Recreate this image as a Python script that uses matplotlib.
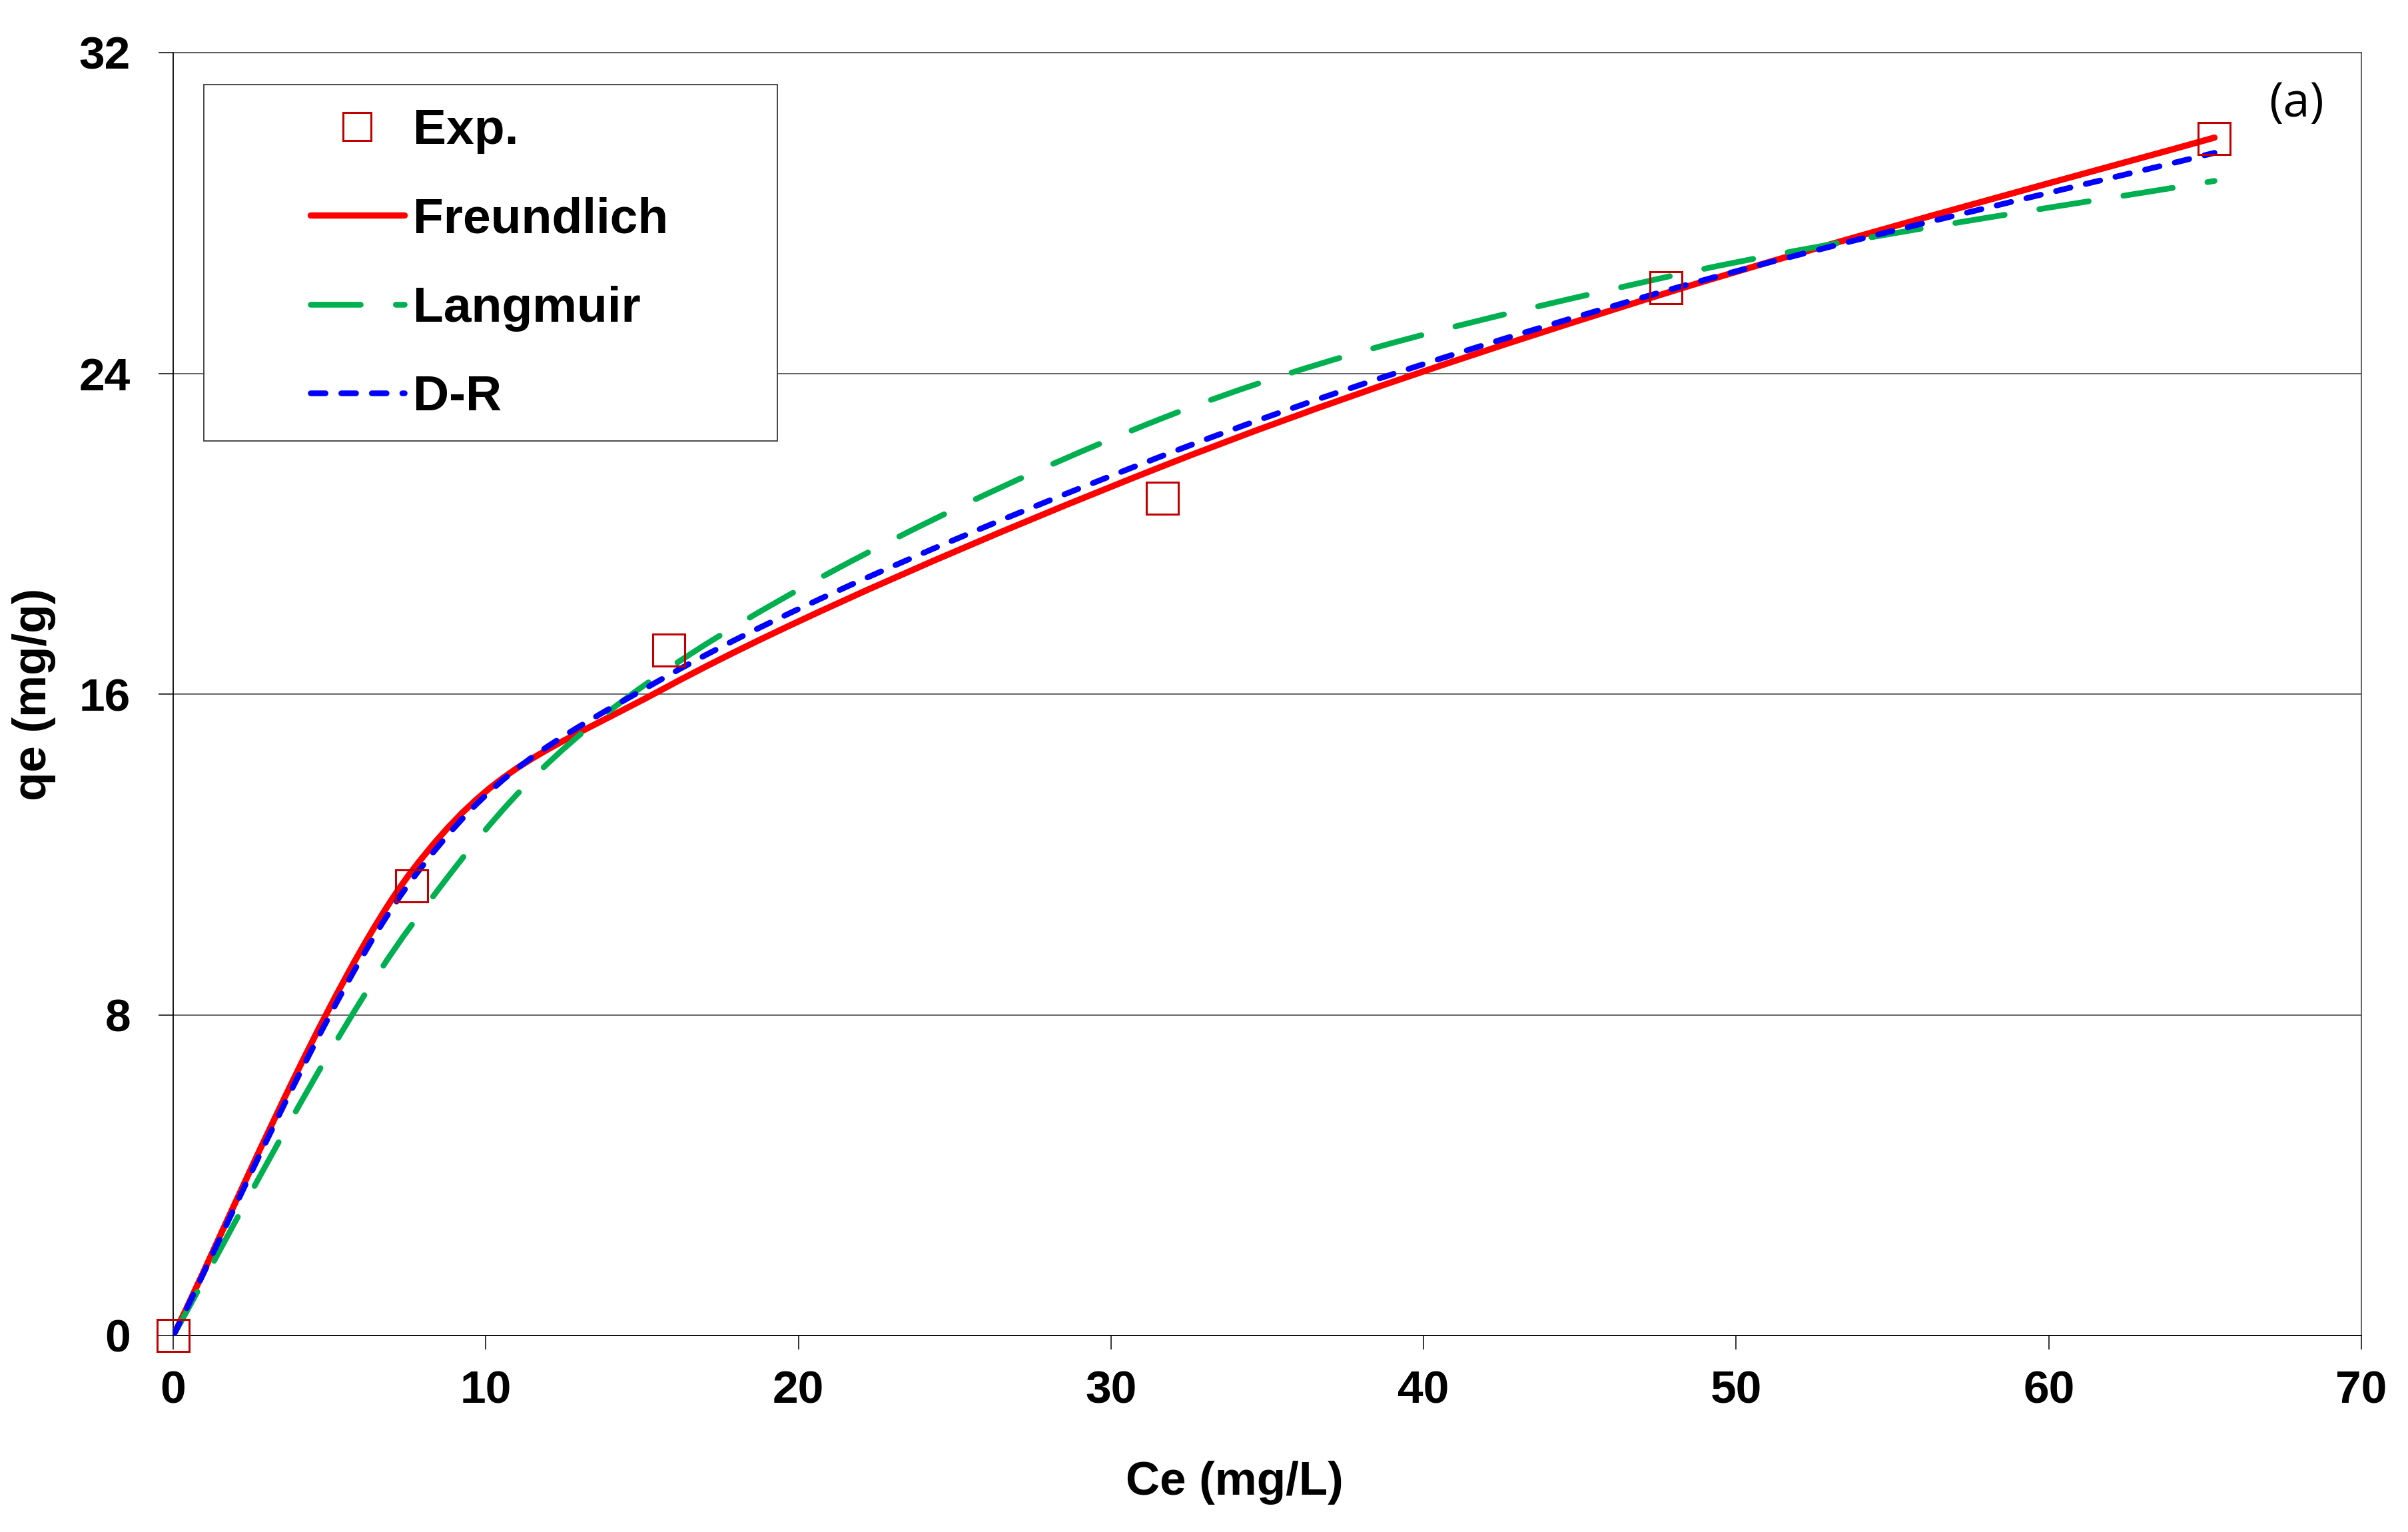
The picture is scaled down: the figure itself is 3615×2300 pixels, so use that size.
import matplotlib
matplotlib.use("Agg")
import matplotlib.pyplot as plt
import numpy as np
from matplotlib.path import Path
from matplotlib.patches import PathPatch, Rectangle
from matplotlib.lines import Line2D

plt.rcParams['font.family'] = ['Liberation Sans', 'DejaVu Sans']
plt.rcParams['lines.scale_dashes'] = False

# ---------------- data ----------------
ce = [0.0, 7.62, 15.85, 31.64, 47.75, 65.3]
qe_exp = [0.0, 11.22, 17.09, 20.88, 26.14, 29.85]
qe_freundlich = [0.0, 11.57, 16.2, 21.68, 26.0, 29.88]
qe_langmuir = [0.0, 10.23, 16.64, 22.88, 26.4, 28.80]
qe_dr = [0.0, 11.35, 16.47, 21.94, 26.06, 29.50]

x_ticks = [0, 10, 20, 30, 40, 50, 60, 70]
y_ticks = [0, 8, 16, 24, 32]
series_names = ["Exp.", "Freundlich", "Langmuir", "D-R"]

# ---------------- figure ----------------
W, H = 3616, 2300
fig = plt.figure(figsize=(W / 100, H / 100), dpi=100)
ax = fig.add_axes([260 / W, 1 - 2005 / H, 3285 / W, 1926 / H])
ax.set_xlim(0, 70)
ax.set_ylim(0, 32)


def smooth_path(xs, ys):
    """Excel-like smoothed line: cubic Bezier through the data points."""
    pts = np.column_stack([xs, ys]).astype(float)
    n = len(pts)
    verts = [pts[0]]
    codes = [Path.MOVETO]
    for i in range(n - 1):
        p0 = pts[i - 1] if i > 0 else pts[i]
        p1 = pts[i]
        p2 = pts[i + 1]
        p3 = pts[i + 2] if i + 2 < n else pts[i + 1]
        c1 = p1 + (p2 - p0) / 6.0
        c2 = p2 - (p3 - p1) / 6.0
        verts += [c1, c2, p2]
        codes += [Path.CURVE4] * 3
    return Path(np.array(verts), codes)


red = '#FF0000'
green = '#00B050'
blue = '#0000FF'
mred = '#C00000'

styles = [
    (qe_freundlich, red, '-', 6.8, 3),
    (qe_langmuir, green, (0, (54, 38)), 6.2, 4),
    (qe_dr, blue, (0, (16, 17)), 6.2, 5),
]
for ys, col, ls, lw, z in styles:
    patch = PathPatch(smooth_path(ce, ys), fill=False, edgecolor=col,
                      linestyle=ls, linewidth=lw, capstyle='round',
                      joinstyle='round', zorder=z, transform=ax.transData)
    ax.add_patch(patch)

ax.plot(ce, qe_exp, linestyle='none', marker='s', markersize=34,
        markerfacecolor='none', markeredgecolor=mred, markeredgewidth=2.2,
        zorder=6, clip_on=False)

# grid & spines
ax.set_yticks(y_ticks)
ax.set_xticks(x_ticks)
ax.yaxis.grid(True, color='#3a3a3a', linewidth=1.1)
ax.set_axisbelow(True)
for s in ['top', 'right']:
    ax.spines[s].set_color('#3a3a3a')
    ax.spines[s].set_linewidth(1.1)
for s in ['left', 'bottom']:
    ax.spines[s].set_color('black')
    ax.spines[s].set_linewidth(1.3)

ax.tick_params(axis='x', direction='out', length=15, width=1.1, pad=22,
               labelsize=50)
ax.tick_params(axis='y', direction='out', length=16, width=1.1, pad=30,
               labelsize=50)
for lab in ax.get_xticklabels() + ax.get_yticklabels():
    lab.set_fontweight('bold')

ax.set_xlabel("Ce (mg/L)", fontsize=51, fontweight='bold', va='center')
ax.xaxis.set_label_coords(0.485, -0.115)
ax.set_ylabel("qe (mg/g)", fontsize=51, fontweight='bold', va='center')
ax.yaxis.set_label_coords(-0.0636, 0.5)

# legend frame
ax.add_patch(Rectangle((46 / 3285, (2005 - 662) / 1926), 861 / 3285, 535 / 1926,
                       transform=ax.transAxes, facecolor='white',
                       edgecolor='#3a3a3a', linewidth=1.3, zorder=7))

handles = [
    Line2D([], [], linestyle='none', marker='s', markersize=30,
           markerfacecolor='none', markeredgecolor=mred, markeredgewidth=2.2),
    Line2D([], [], color=red, linestyle='-', linewidth=6.8,
           solid_capstyle='round'),
    Line2D([], [], color=green, linestyle=(0, (54, 38)), linewidth=6.2,
           dash_capstyle='round'),
    Line2D([], [], color=blue, linestyle=(0, (16, 17)), linewidth=6.2,
           dash_capstyle='round'),
]
leg = ax.legend(handles, series_names, loc='upper left',
                bbox_to_anchor=((466 - 260) / 3285, (2005 - 162) / 1926),
                frameon=False, prop={'weight': 'bold', 'size': 54},
                handlelength=1.88, handletextpad=0.17, labelspacing=0.86,
                borderpad=0, borderaxespad=0, numpoints=1)
leg.set_zorder(8)

fig.text(3448 / W, 1 - 156 / H, "(a)", fontsize=52,
         family=['Open Sans', 'DejaVu Sans'], ha='center', va='center')

fig.savefig("out.png", dpi=100, facecolor='white')
